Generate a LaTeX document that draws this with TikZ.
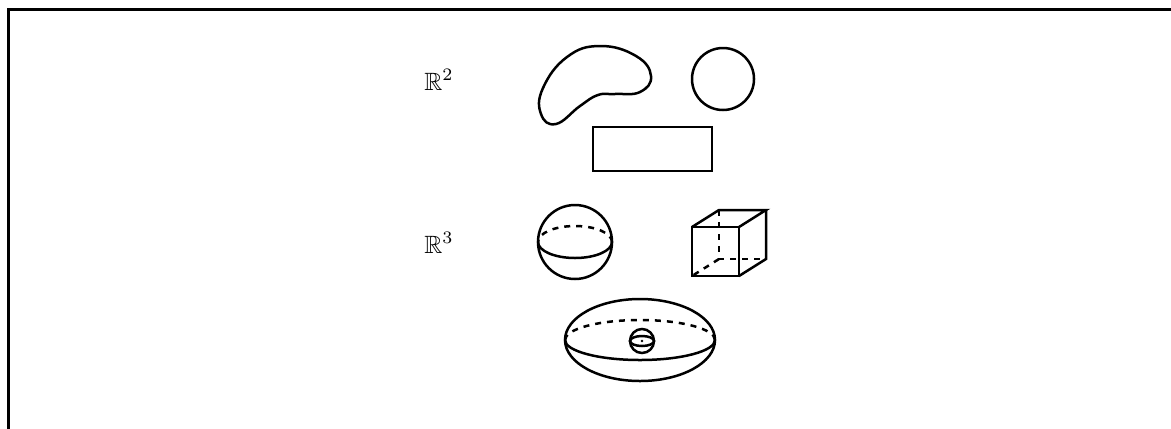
\documentclass[tikz,border=0pt]{standalone}
\usepackage{amsmath}
\usepackage{amssymb}
\usepackage{tikz}
\usetikzlibrary{calc}

\begin{document}
\begin{tikzpicture}[
  x=0.4pt, y=-0.4pt,
  line width=1pt,
  hidden/.style={dash pattern=on 2.4pt off 2.4pt},
]
\useasboundingbox (0,0) rectangle (1171,428);
\draw[line width=1.2pt] (8,440) -- (8,9) -- (1180,9);

% 平面图形
\node[anchor=base west, inner sep=0] (r2) at (423,90) {$\mathbb{R}^2$};
\draw plot[smooth cycle, tension=0.75] coordinates {
  (600,46) (636,56) (651,76) (640,92) (615,94) (598,95)
  (580,106) (556,124) (541,114) (543,88) (567,57)};
\coordinate (disk) at (723,79);
\draw (disk) circle[radius=31];
\node[draw, rectangle, minimum width=47.6pt, minimum height=17.6pt, inner sep=0] (box) at (652.5,149) {};

% 空间图形
\node[anchor=base west, inner sep=0] (r3) at (423,253) {$\mathbb{R}^3$};
\coordinate (ball) at (575,242);
\draw (ball) circle[radius=37];
\draw ($(ball)+(-37,0)$) arc[start angle=180, end angle=0, x radius=37, y radius=16];
\draw[hidden] ($(ball)+(37,0)$) arc[start angle=0, end angle=-180, x radius=37, y radius=16];

\draw (692,227) rectangle (739,276);
\draw (692,227) -- (719,210) -- (766,210) -- (739,227);
\draw (766,210) -- (766,259) -- (739,276);
\draw[hidden] (719,210) -- (719,259) -- (766,259);
\draw[hidden] (719,259) -- (692,276);

\coordinate (egg) at (640,340);
\draw (egg) ellipse[x radius=75, y radius=41];
\draw ($(egg)+(-75,0)$) arc[start angle=180, end angle=0, x radius=75, y radius=20];
\draw[hidden] ($(egg)+(75,0)$) arc[start angle=0, end angle=-180, x radius=75, y radius=20];
\coordinate (pea) at (642,341);
\draw (pea) circle[radius=12];
\draw (pea) ellipse[x radius=12, y radius=5];
\fill (pea) circle[radius=1.3];
\end{tikzpicture}
\end{document}
